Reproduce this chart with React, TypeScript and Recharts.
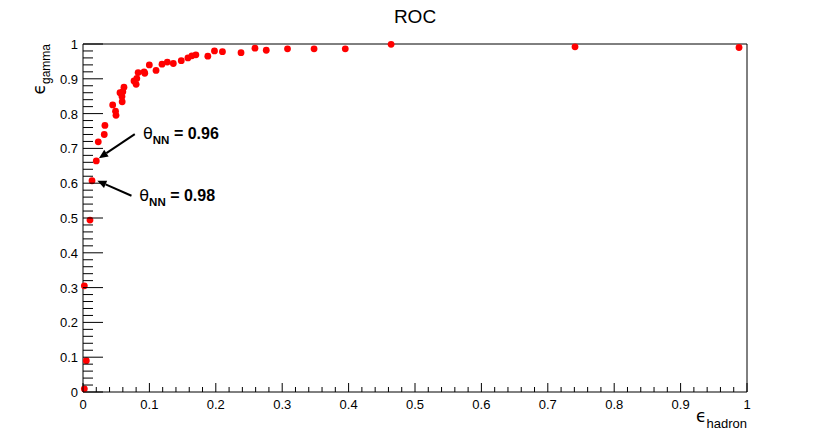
import React from 'react';
import {
  ScatterChart,
  Scatter,
  XAxis,
  YAxis,
  ReferenceLine,
  ReferenceDot,
} from 'recharts';

// ROC points
const effHadron = [
  0.002, 0.005, 0.002, 0.0105, 0.0136, 0.02, 0.023, 0.032, 0.033, 0.0447, 0.049,
  0.0497, 0.0557, 0.0587, 0.059, 0.06, 0.0617, 0.0768, 0.08, 0.081, 0.083, 0.092,
  0.093, 0.0999, 0.11, 0.119, 0.127, 0.136, 0.148, 0.158, 0.164, 0.17, 0.188, 0.198,
  0.21, 0.238, 0.259, 0.276, 0.308, 0.348, 0.395, 0.464, 0.741, 0.988,
];
const effGamma = [
  0.009, 0.09, 0.305, 0.494, 0.607, 0.664, 0.719, 0.74, 0.766, 0.825, 0.807,
  0.795, 0.86, 0.849, 0.834, 0.863, 0.876, 0.894, 0.884, 0.901, 0.918, 0.92,
  0.916, 0.94, 0.924, 0.942, 0.948, 0.944, 0.952, 0.96, 0.966, 0.969, 0.965, 0.98,
  0.978, 0.975, 0.988, 0.982, 0.986, 0.986, 0.986, 0.999, 0.992, 0.99,
];

const majorTicks = [0, 0.1, 0.2, 0.3, 0.4, 0.5, 0.6, 0.7, 0.8, 0.9, 1];
const allTicks = majorTicks.flatMap((t, i) =>
  i === majorTicks.length - 1 ? [t] : [0, 1, 2, 3, 4].map((k) => +(t + 0.02 * k).toFixed(2))
);

// annotations: label, text pos, arrow tail, arrow head
const cutLabels = ['0.96', '0.98'];
const cutTextPos = [
  { x: 0.0904, y: 0.727 },
  { x: 0.0848, y: 0.549 },
];
const cutArrowTail = [
  { x: 0.078, y: 0.741 },
  { x: 0.073, y: 0.564 },
];
const cutArrowHead = [
  { x: 0.024, y: 0.672 },
  { x: 0.0216, y: 0.607 },
];

const data = effHadron.map((x, i) => ({ x, y: effGamma[i] }));
const font = '"Liberation Sans", Arial, Helvetica, sans-serif';
const isMajor = (v: number) => majorTicks.some((m) => Math.abs(m - v) < 1e-6);

const XTick = (p: any) => {
  const v = p.payload.value;
  const major = isMajor(v);
  return (
    <g>
      <line x1={p.x} y1={p.y} x2={p.x} y2={p.y - (major ? 9 : 5)} stroke="#000" />
      {major && (
        <text x={p.x} y={p.y + 17} textAnchor="middle" fontSize={13} fontFamily={font} fill="#000">
          {String(v)}
        </text>
      )}
    </g>
  );
};

const YTick = (p: any) => {
  const v = p.payload.value;
  const major = isMajor(v);
  return (
    <g>
      <line x1={p.x} y1={p.y} x2={p.x + (major ? 20 : 10)} y2={p.y} stroke="#000" />
      {major && (
        <text x={p.x - 5} y={p.y + 5} textAnchor="end" fontSize={13} fontFamily={font} fill="#000">
          {String(v)}
        </text>
      )}
    </g>
  );
};

const XLabel = (p: any) => {
  const vb = p.viewBox;
  return (
    <text x={vb.x + vb.width} y={vb.y + 36} textAnchor="end" fontFamily={font} fill="#000">
      <tspan fontSize={17} dy={-6} fontFamily="DejaVu Sans">ϵ</tspan>
      <tspan fontSize={13} dy={6}>hadron</tspan>
    </text>
  );
};

const YLabel = (p: any) => {
  const vb = p.viewBox;
  return (
    <text
      transform={`translate(${vb.x + vb.width - 33},${vb.y}) rotate(-90)`}
      textAnchor="end"
      fontFamily={font}
      fill="#000"
    >
      <tspan fontSize={17} dy={-5} fontFamily="DejaVu Sans">ϵ</tspan>
      <tspan fontSize={12} dy={5}>gamma</tspan>
    </text>
  );
};

const Arrow = (p: any) => {
  const { x1, y1, x2, y2 } = p;
  const a = Math.atan2(y2 - y1, x2 - x1);
  const len = 9;
  const w = 4;
  const bx = x2 - len * Math.cos(a);
  const by = y2 - len * Math.sin(a);
  const nx = -Math.sin(a) * w;
  const ny = Math.cos(a) * w;
  return (
    <g>
      <line x1={x1} y1={y1} x2={bx} y2={by} stroke="#000" strokeWidth={2} />
      <polygon points={`${x2},${y2} ${bx + nx},${by + ny} ${bx - nx},${by - ny}`} fill="#000" />
    </g>
  );
};

const cutText = (label: string) => (p: any) => (
  <text x={p.cx} y={p.cy} fontFamily={font} fill="#000">
    <tspan fontSize={16} fontFamily="DejaVu Sans">θ</tspan>
    <tspan fontSize={11.5} fontWeight="bold" dy={5}>NN</tspan>
    <tspan fontSize={16} fontWeight="bold" dy={-5}> = {label}</tspan>
  </text>
);

export default function App() {
  return (
    <div style={{ position: 'absolute', left: 0, top: 0, width: 830, height: 436, background: '#fff' }}>
      <ScatterChart width={830} height={436} margin={{ top: 44, right: 83, bottom: 43, left: 82 }}>
        <text x={415} y={23} textAnchor="middle" fontSize={19} fontFamily={font} fill="#000">
          ROC
        </text>
        <XAxis
          type="number"
          dataKey="x"
          domain={[0, 1]}
          ticks={allTicks}
          interval={0}
          height={1}
          tickSize={0}
          tickMargin={0}
          tick={<XTick />}
          axisLine={{ stroke: '#000' }}
          tickLine={false}
          label={{ content: <XLabel /> }}
        />
        <YAxis
          type="number"
          dataKey="y"
          domain={[0, 1]}
          ticks={allTicks}
          interval={0}
          width={1}
          tickSize={0}
          tickMargin={0}
          tick={<YTick />}
          axisLine={{ stroke: '#000' }}
          tickLine={false}
          label={{ content: <YLabel /> }}
        />
        <ReferenceLine y={1} stroke="#000" />
        <ReferenceLine x={1} stroke="#000" />
        {cutLabels.map((l, i) => (
          <ReferenceLine key={'a' + i} segment={[cutArrowTail[i], cutArrowHead[i]]} shape={<Arrow />} />
        ))}
        {cutLabels.map((l, i) => (
          <ReferenceDot key={'t' + i} x={cutTextPos[i].x} y={cutTextPos[i].y} r={0} shape={cutText(l)} />
        ))}
        <Scatter
          data={data}
          isAnimationActive={false}
          shape={(p: any) => <circle cx={p.cx} cy={p.cy} r={3.4} fill="#ff0000" />}
        />
      </ScatterChart>
    </div>
  );
}
